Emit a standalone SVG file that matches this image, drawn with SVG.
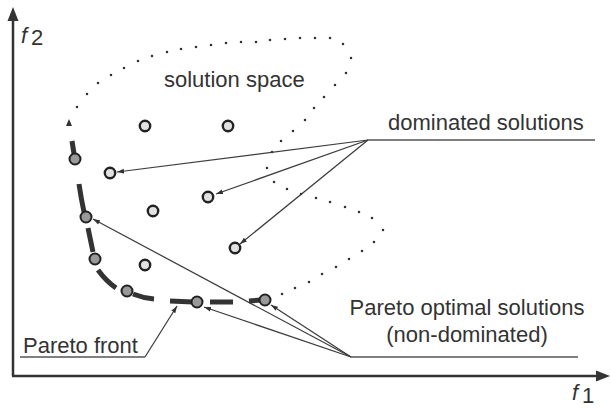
<svg xmlns="http://www.w3.org/2000/svg" width="610" height="412" viewBox="0 0 610 412">
  <style>
    .lbl { font-family: "Liberation Sans", Arial, sans-serif; font-size: 22px; fill: #333; }
    .axis { stroke: #333; stroke-width: 2.5; fill: none; }
    .under { stroke: #555; stroke-width: 1.4; fill: none; }
    .ptr { stroke: #3c3c3c; stroke-width: 1.25; fill: none; marker-end: url(#tip); }
    .front { stroke: #333; stroke-width: 5; fill: none; stroke-linecap: butt; }
    .bound { stroke: #333; stroke-width: 2.6; fill: none; stroke-linecap: round; }
    .pareto { fill: #999; stroke: #222; stroke-width: 2; }
    .dom { fill: #e2e2e2; stroke: #222; stroke-width: 2.4; }
  </style>
  <defs>
    <marker id="tip" markerUnits="userSpaceOnUse" markerWidth="8" markerHeight="6" refX="7" refY="3" orient="auto">
      <path d="M0,0.6 L7,3 L0,5.4 Z" fill="#333"/>
    </marker>
  </defs>

  <!-- axes -->
  <g id="axes">
    <path class="axis" d="M13,376 L13,20"/>
    <path d="M7.5,21 L13,7 L18.5,21 Z" fill="#333"/>
    <path class="axis" d="M12,376 L597,376"/>
    <path d="M596,370.5 L610,376 L596,381.5 Z" fill="#333"/>
    <text class="lbl" x="21" y="43" font-size="24" font-style="italic">f</text>
    <text class="lbl" x="31" y="45" font-size="16">2</text>
    <text class="lbl" x="572" y="400" font-size="24" font-style="italic">f</text>
    <text class="lbl" x="582" y="403" font-size="16">1</text>
  </g>

  <!-- dotted boundary of the feasible region -->
  <g id="solution-space">
    <path class="bound" d="M69,123h0 M77,107h0 M87,94h0 M98,83h0 M111,75h0 M124,68h0 M138,61h0 M152,56h0 M167,52h0 M181,49h0 M196,47h0 M211,45h0 M226,43h0 M241,42h0 M256,42h0 M270,40h0 M285,39h0 M300,38h0 M315,38h0 M330,38h0 M343,44h0 M351,58h0 M346,73h0 M335,85h0 M324,97h0 M314,108h0 M305,120h0 M293,131h0 M281,141h0 M272,152h0 M267,168h0 M274,182h0 M287,189h0 M301,194h0 M316,198h0 M330,202h0 M345,207h0 M359,212h0 M372,218h0 M383,230h0 M374,242h0 M362,251h0 M349,259h0 M336,267h0 M322,274h0 M309,282h0 M295,288h0 M282,294h0"/>
    <path d="M66,126 L69,119 L72,126 Z" fill="#333"/>
    <text class="lbl" x="164" y="87">solution space</text>
  </g>

  <!-- Pareto front (thick dashed curve) -->
  <g id="pareto-front">
    <path class="front" d="M72,141 L75,160 M79,184 Q81,198 84,212 M88,228 L93,252 M98,270 Q106,281 116,288 M133,294 Q143,298 154,299 M170,301 L193,302 M210,302 L233,302 M249,301 L262,300"/>
  </g>

  <!-- connectors -->
  <g id="connectors">
    <path class="ptr" d="M368,140 L117,172"/>
    <path class="ptr" d="M368,140 L216,194"/>
    <path class="ptr" d="M368,140 L240,244"/>
    <path class="under" d="M368,140 L595,140"/>
    <path class="ptr" d="M351,357 L93,219"/>
    <path class="ptr" d="M351,357 L204,307"/>
    <path class="ptr" d="M351,357 L271,305"/>
    <path class="under" d="M351,357 L578,357"/>
    <path class="under" d="M20,357 L145,357"/>
    <path class="ptr" d="M145,357 L177,306"/>
  </g>

  <!-- dominated solutions -->
  <g id="dominated">
    <circle class="dom" cx="145" cy="126" r="5.2"/>
    <circle class="dom" cx="228" cy="126" r="5.2"/>
    <circle class="dom" cx="110" cy="173" r="5.2"/>
    <circle class="dom" cx="208" cy="197" r="5.2"/>
    <circle class="dom" cx="153" cy="211" r="5.2"/>
    <circle class="dom" cx="235" cy="248" r="5.2"/>
    <circle class="dom" cx="145" cy="265" r="5.2"/>
  </g>

  <!-- Pareto optimal solutions -->
  <g id="pareto-optimal">
    <circle class="pareto" cx="75" cy="159" r="5.5"/>
    <circle class="pareto" cx="86" cy="217" r="5.5"/>
    <circle class="pareto" cx="95" cy="259" r="5.5"/>
    <circle class="pareto" cx="127" cy="291" r="5.5"/>
    <circle class="pareto" cx="197" cy="302" r="5.5"/>
    <circle class="pareto" cx="265" cy="300" r="5.5"/>
  </g>

  <!-- labels -->
  <g id="label-dominated">
    <text class="lbl" x="388" y="130">dominated solutions</text>
  </g>
  <g id="label-optimal">
    <text class="lbl" x="467" y="315" text-anchor="middle">Pareto optimal solutions</text>
    <text class="lbl" x="467" y="342" text-anchor="middle">(non-dominated)</text>
  </g>
  <g id="label-front">
    <text class="lbl" x="23" y="353">Pareto front</text>
  </g>
</svg>
